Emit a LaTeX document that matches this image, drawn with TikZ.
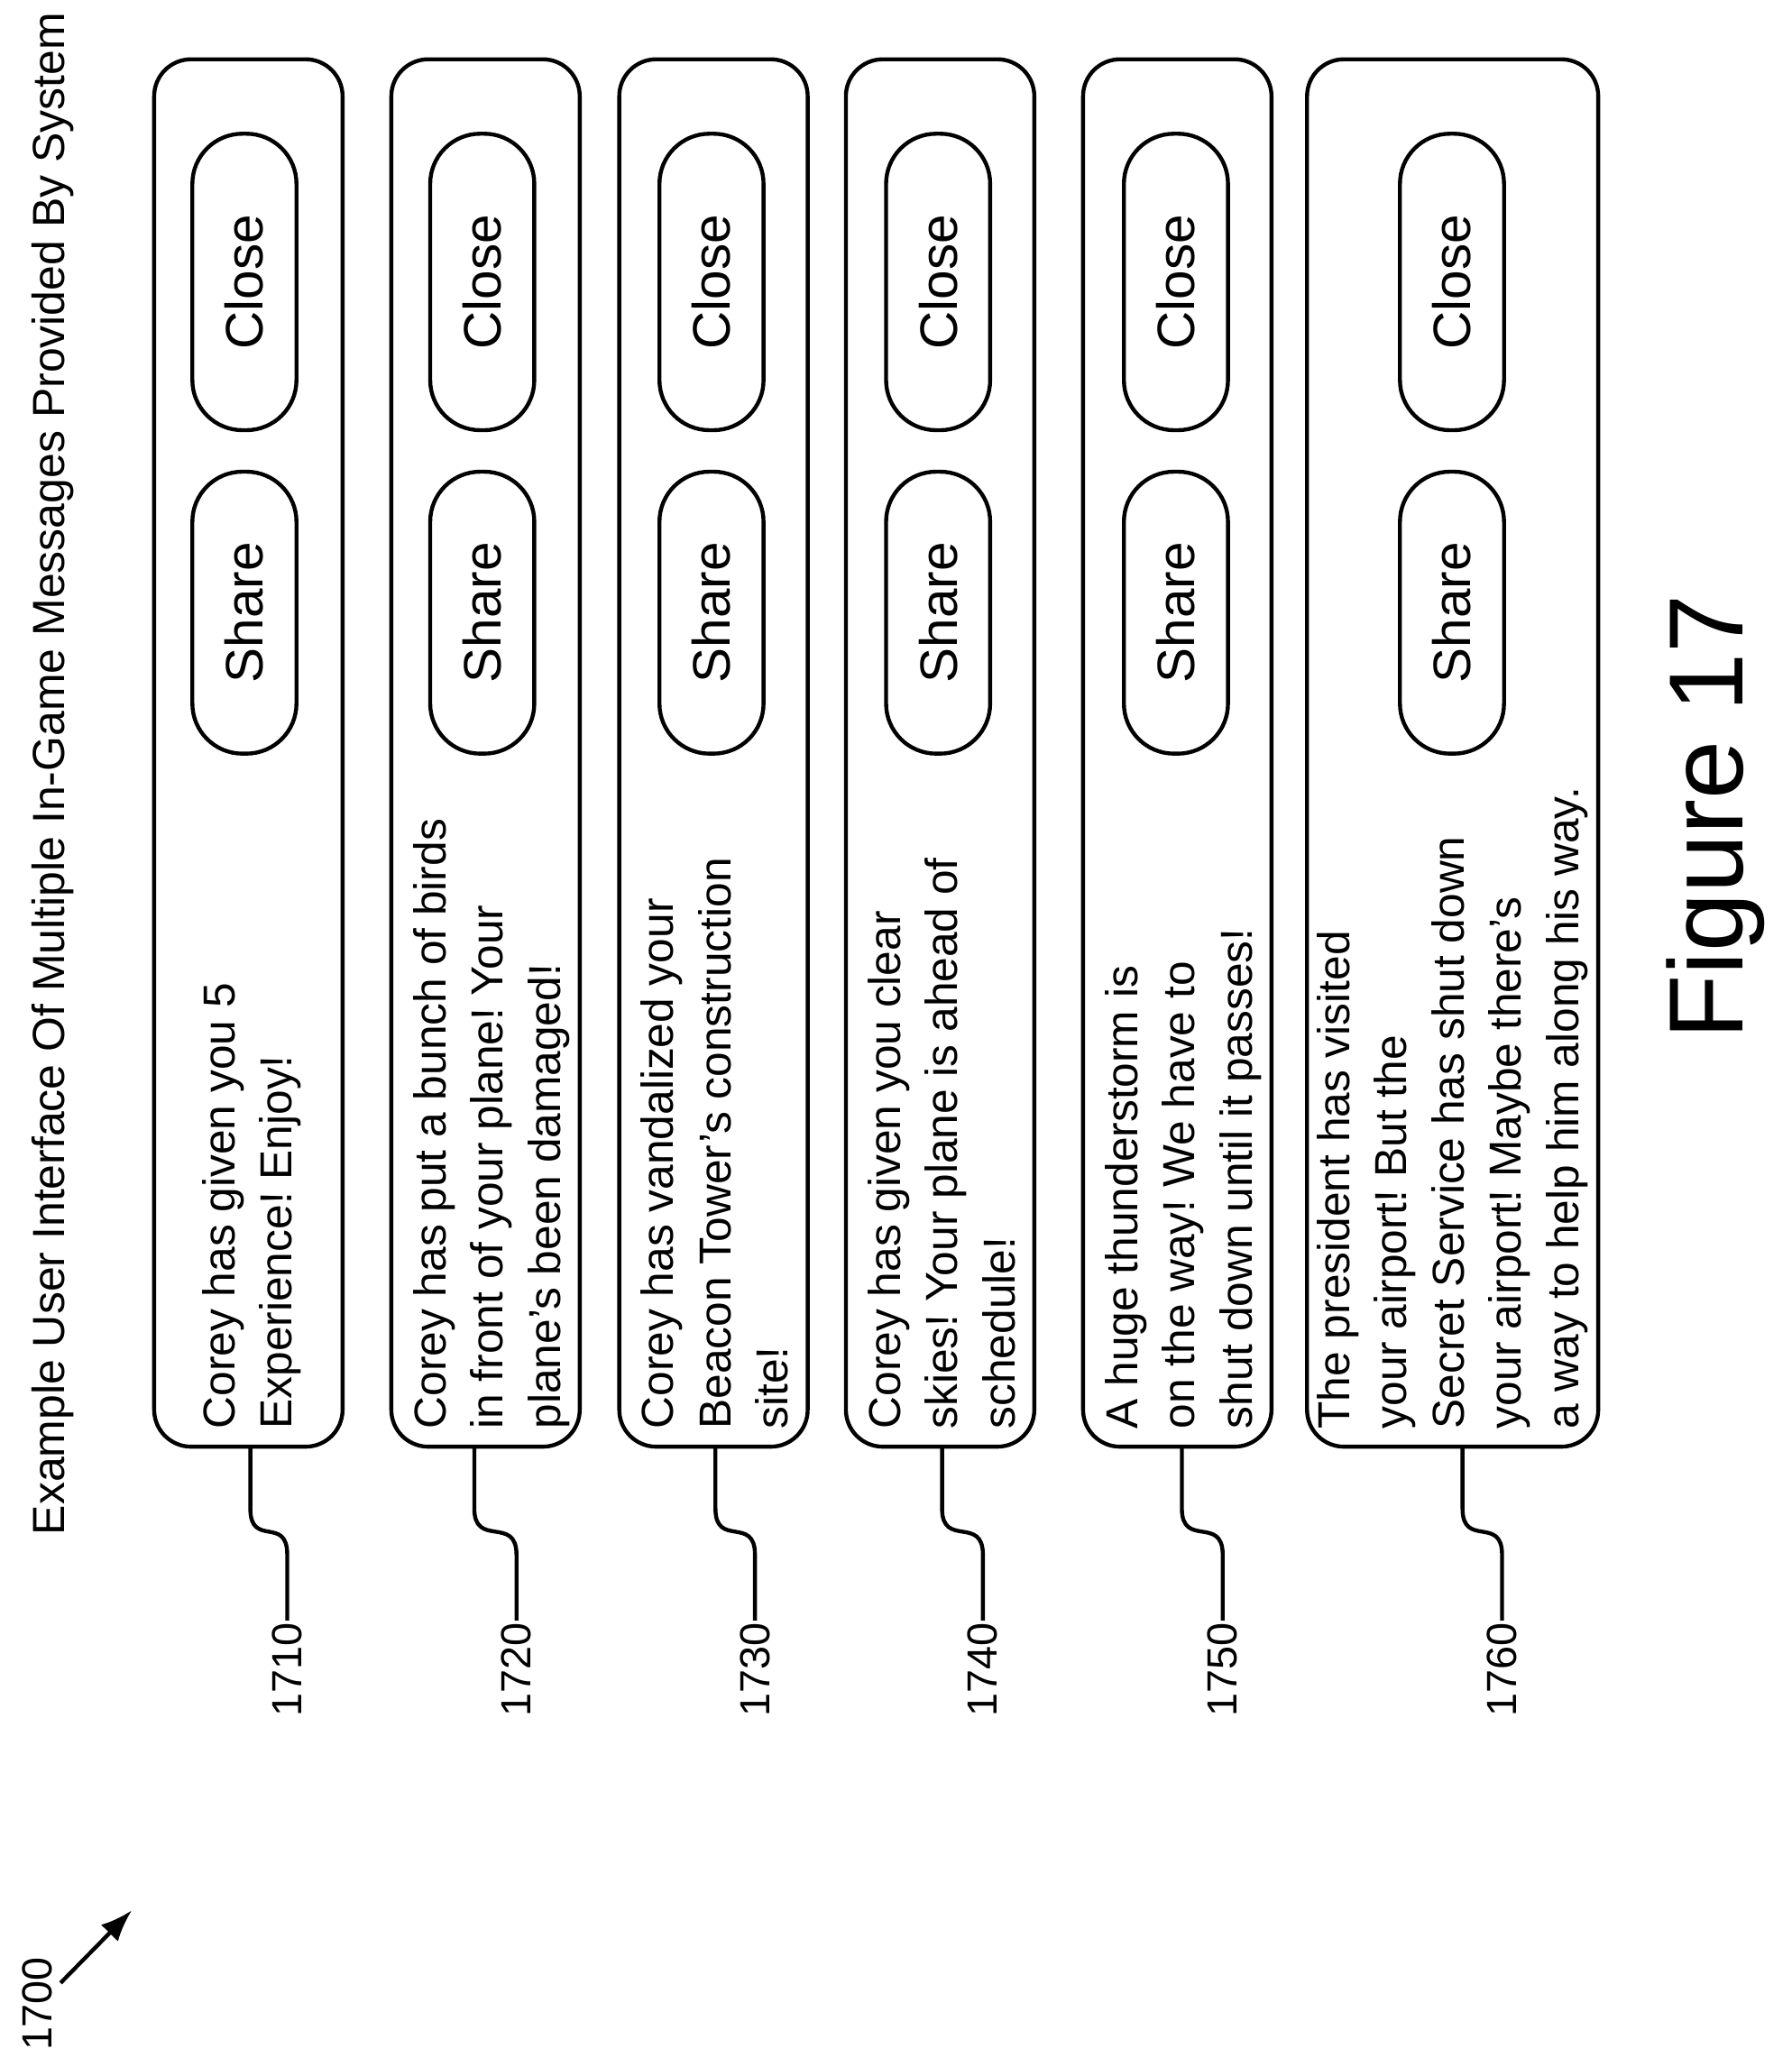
\documentclass[tikz,border=0pt]{standalone}
\usepackage{fontspec}
\setmainfont{Liberation Sans}
\usetikzlibrary{arrows.meta}
\frenchspacing
\begin{document}
\begin{tikzpicture}[x=1pt,y=-1pt,line width=3pt,
 box/.style={draw,rounded corners=28pt},
 btn/.style={draw,rounded corners=38pt},
 msg/.style={rotate=90,anchor=north west,inner sep=0pt,align=left,font=\fontsize{34}{43.5}\selectfont},
 btxt/.style={rotate=90,font=\fontsize{40}{44}\selectfont},
 lab/.style={rotate=90,anchor=east,inner sep=0pt,font=\fontsize{32}{36}\selectfont}]
\useasboundingbox (0,0) rectangle (1360,1562);
\node[rotate=90,anchor=east,inner sep=0pt,font=\fontsize{34.2}{38}\selectfont] (title) at (40,8) {Example User Interface Of Multiple In-Game Messages Provided By System};
\node[rotate=90,anchor=west,inner sep=0pt,font=\fontsize{32}{36}\selectfont] (n1700) at (28,1558) {1700};
\coordinate (a0) at (46,1505);
\coordinate (a1) at (100,1450);
\draw[-{Latex[length=24pt,width=18pt]}] (a0) -- (a1);
\node[rotate=90,font=\fontsize{80}{90}\selectfont] (fig) at (1302,620) {Figure 17};
\foreach \i/\l/\r/\at/\lx/\bl/\br/\off/\num/\txt in {
 1/117/260/190/218/146/225/35/1710/{Corey has given you 5\\Experience! Enjoy!},
 2/297/440/360/392/327/405/15/1720/{Corey has put a bunch of birds\\in front of your plane! Your\\plane's been damaged!},
 3/470/613/543/573/500/580/15/1730/{Corey has vandalized your\\Beacon Tower's construction\\site!},
 4/642/785/715/746/672/752/15/1740/{Corey has given you clear\\skies! Your plane is ahead of\\schedule!},
 5/822/965/897/928/853/932/15/1750/{A huge thunderstorm is\\on the way! We have to\\shut down until it passes!},
 6/992/1213/1110/1140/1062/1142/6/1760/{The president has visited\\your airport! But the\\Secret Service has shut down\\your airport! Maybe there's\\a way to help him along his way.}}{
 \draw[box] (\l,45) rectangle (\r,1098);
 \node[btn,minimum width=214pt,minimum height=79pt,rotate=90] (share\i) at ({(\bl+\br)/2},465) {};
 \node[btxt] (st\i) at (share\i) {Share};
 \node[btn,minimum width=225pt,minimum height=79pt,rotate=90] (close\i) at ({(\bl+\br)/2},214) {};
 \node[btxt] (ct\i) at (close\i) {Close};
 \node[msg] (m\i) at ({\l+\off},1086) {\txt};
 \coordinate (p\i) at (\at,1098);
 \node[lab] (n\i) at (\lx,1230) {\num};
 \draw (p\i) -- (\at,1145) .. controls (\at,1175) and (\lx,1150) .. (\lx,1180) -- (n\i.east);
}
\end{tikzpicture}
\end{document}
